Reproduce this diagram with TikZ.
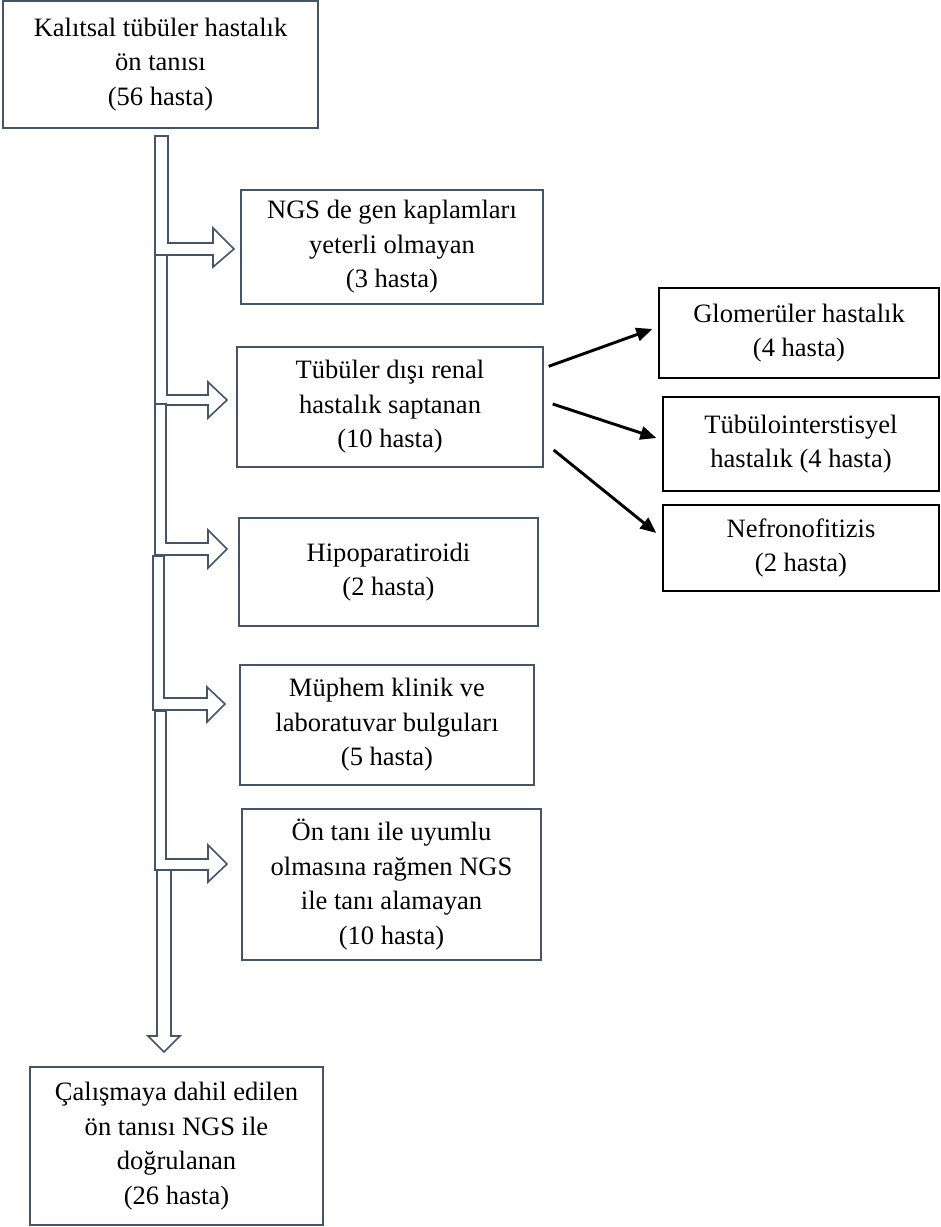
\documentclass[tikz,border=0pt]{standalone}
\usepackage{fontspec}
\setmainfont{Liberation Serif}
\usetikzlibrary{arrows.meta,calc}
\definecolor{slate}{RGB}{68,84,106}
\tikzset{
  box/.style={draw=slate, line width=1pt, fill=white, align=center, inner sep=0pt,
    font=\fontsize{19.9pt}{25.9pt}\selectfont},
  sidebox/.style={box, draw=black},
  hollow/.style={draw=slate, fill=white, line width=1.2pt, line join=miter},
  link/.style={draw=black, line width=2.2pt, -{Triangle[length=12pt,width=10pt]}}
}
\begin{document}
\begin{tikzpicture}[x=0.75pt,y=-0.75pt]
\useasboundingbox (0,0) rectangle (941,1227);

% main column boxes
\node[box, minimum width=236.25pt, minimum height=95.25pt] (top) at (160.5,64.5)
  {Kalıtsal tübüler hastalık\\ön tanısı\\(56 hasta)};
\node[box, minimum width=226.5pt, minimum height=85.5pt] (b1) at (392,247)
  {NGS de gen kaplamları\\yeterli olmayan\\(3 hasta)};
\node[box, minimum width=229.5pt, minimum height=90pt] (b2) at (390,407)
  {Tübüler dışı renal\\hastalık saptanan\\(10 hasta)};
\node[box, minimum width=224.25pt, minimum height=81pt] (b3) at (388.5,572)
  {Hipoparatiroidi\\(2 hasta)};
\node[box, minimum width=220.5pt, minimum height=90pt] (b4) at (387,725)
  {Müphem klinik ve\\laboratuvar bulguları\\(5 hasta)};
\node[box, minimum width=224.25pt, minimum height=113.25pt] (b5) at (391.5,884.5)
  {Ön tanı ile uyumlu\\olmasına rağmen NGS\\ile tanı alamayan\\(10 hasta)};
\node[box, minimum width=219.75pt, minimum height=118.5pt] (bot) at (176.5,1146)
  {Çalışmaya dahil edilen\\ön tanısı NGS ile\\doğrulanan\\(26 hasta)};

% side boxes
\node[sidebox, minimum width=210pt, minimum height=67.5pt] (g) at (799,333)
  {Glomerüler hastalık\\(4 hasta)};
\node[sidebox, minimum width=207pt, minimum height=70.5pt] (t) at (801,444)
  {Tübülointerstisyel\\hastalık (4 hasta)};
\node[sidebox, minimum width=207pt, minimum height=64.5pt] (n) at (801,548)
  {Nefronofitizis\\(2 hasta)};

% hollow bent arrows down the left side
\draw[hollow] (155,136)--(168,136)--(168,243)--(213,243)--(213,228)--(234,249)--(213,267)--(213,255)--(155,255)--cycle;
\draw[hollow] (155,255)--(167,255)--(167,395)--(208,395)--(208,382)--(227,400)--(208,418)--(208,405)--(155,405)--cycle;
\draw[hollow] (155,404)--(166,404)--(166,543)--(208,543)--(208,530)--(227,549)--(208,568)--(208,555)--(155,555)--cycle;
\draw[hollow] (153,556)--(164,556)--(164,698)--(207,698)--(207,687)--(225,704)--(207,722)--(207,710)--(153,710)--cycle;
\draw[hollow] (155,711)--(166,711)--(166,859)--(208,859)--(208,845)--(227,864)--(208,882)--(208,870)--(155,870)--cycle;
\draw[hollow] (157,870)--(171,870)--(171,1036)--(180,1036)--(164,1052)--(148,1036)--(157,1036)--cycle;

% links to the side boxes
\draw[link] ($(b2.north east)+(5,20)$) -- ($(g.west)+(-6,-4)$);
\draw[link] ($(b2.east)+(9,-3)$) -- ($(t.west)+(-6,-6)$);
\draw[link] ($(b2.east)+(10,43)$) -- ($(n.west)+(-6,-15)$);
\end{tikzpicture}
\end{document}
